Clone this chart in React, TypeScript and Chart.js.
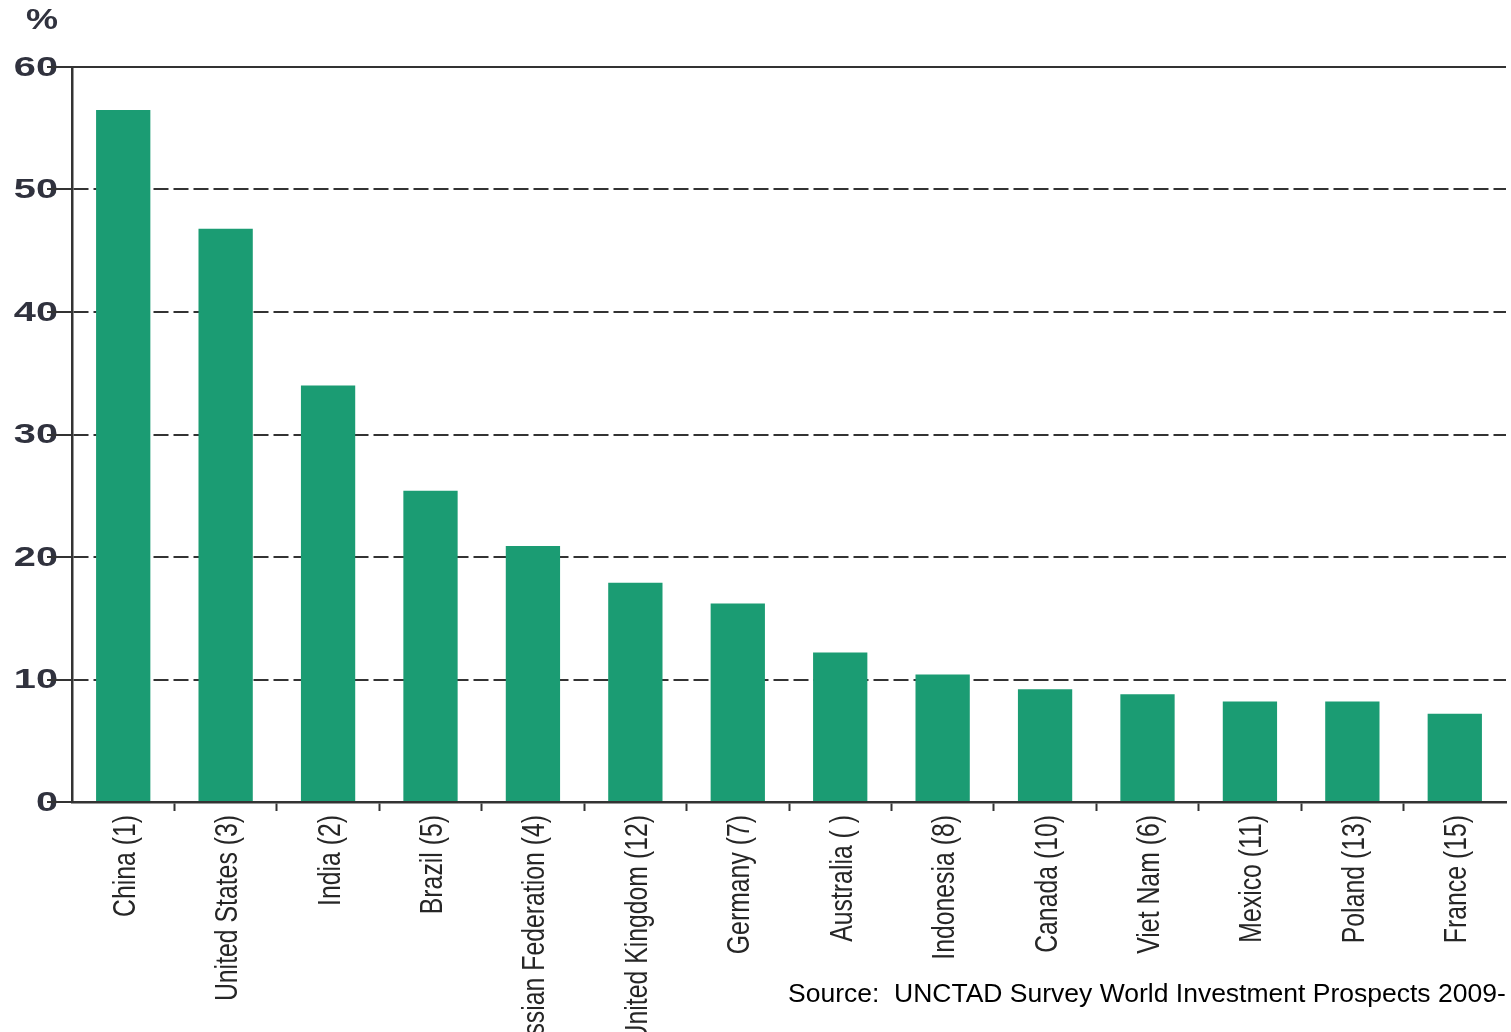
import { useEffect, useRef } from 'react';
import { Chart, registerables } from 'chart.js';

Chart.register(...registerables);

const categories = [
  'China (1)',
  'United States (3)',
  'India (2)',
  'Brazil (5)',
  'Russian Federation (4)',
  'United Kingdom (12)',
  'Germany (7)',
  'Australia ( )',
  'Indonesia (8)',
  'Canada (10)',
  'Viet Nam (6)',
  'Mexico (11)',
  'Poland (13)',
  'France (15)',
];
const values = [56.5, 46.8, 34.0, 25.4, 20.9, 17.9, 16.2, 12.2, 10.4, 9.2, 8.8, 8.2, 8.2, 7.2];
const yMin = 0;
const yMax = 60;
const yStep = 10;
const unitLabel = '%';
const sourceText = 'Source:  UNCTAD Survey World Investment Prospects 2009-';

const BAR_COLOR = '#1b9c73';
const LINE_COLOR = '#333333';
const LABEL_COLOR = '#30323e';

const decorPlugin = {
  id: 'decor',
  beforeDraw(chart: any) {
    const ctx = chart.ctx as CanvasRenderingContext2D;
    const y = chart.scales.y;
    const x = chart.scales.x;
    const area = chart.chartArea;
    ctx.save();
    // y tick labels (wide, bold)
    ctx.fillStyle = LABEL_COLOR;
    ctx.font = 'bold 28px "Liberation Sans", Arial, sans-serif';
    ctx.textAlign = 'right';
    ctx.textBaseline = 'middle';
    y.ticks.forEach((t: any) => {
      const py = y.getPixelForValue(t.value);
      ctx.save();
      ctx.translate(area.left - 14, py + 1);
      ctx.scale(1.42, 1);
      ctx.fillText(String(t.value), 0, 0);
      ctx.restore();
    });
    // unit label
    ctx.save();
    ctx.font = 'bold 30px "Liberation Sans", Arial, sans-serif';
    ctx.textAlign = 'center';
    ctx.translate(area.left - 30, area.top - 46);
    ctx.scale(1.2, 1);
    ctx.fillText(unitLabel, 0, 0);
    ctx.restore();
    // x category labels (rotated, condensed)
    ctx.fillStyle = '#262626';
    ctx.font = '31px "Liberation Sans", Arial, sans-serif';
    ctx.textAlign = 'right';
    ctx.textBaseline = 'middle';
    const labels = chart.data.labels as string[];
    labels.forEach((lab, i) => {
      const px = x.getPixelForTick(i);
      ctx.save();
      ctx.translate(px + 3, area.bottom + 13);
      ctx.rotate(-Math.PI / 2);
      ctx.scale(0.8, 1);
      ctx.fillText(lab, 0, 0);
      ctx.restore();
    });
    ctx.restore();
  },
  afterDraw(chart: any) {
    const ctx = chart.ctx as CanvasRenderingContext2D;
    const area = chart.chartArea;
    const y = chart.scales.y;
    const top = y.getPixelForValue(yMax);
    ctx.save();
    ctx.strokeStyle = LINE_COLOR;
    ctx.lineWidth = 2;
    ctx.beginPath();
    ctx.moveTo(area.left, top);
    ctx.lineTo(area.right, top);
    ctx.stroke();
    ctx.restore();
  },
};

export default function App() {
  const canvasRef = useRef<HTMLCanvasElement | null>(null);

  useEffect(() => {
    if (!canvasRef.current) return;
    const chart = new Chart(canvasRef.current, {
      type: 'bar',
      data: {
        labels: categories,
        datasets: [
          {
            data: values,
            backgroundColor: BAR_COLOR,
            borderWidth: 0,
            barPercentage: 0.53,
            categoryPercentage: 1,
          },
        ],
      },
      options: {
        responsive: false,
        animation: false,
        layout: { padding: { top: 67, right: 5, left: 0, bottom: 0 } },
        plugins: {
          legend: { display: false },
          tooltip: { enabled: false },
          title: { display: false },
        },
        scales: {
          x: {
            offset: true,
            grid: {
              display: true,
              offset: true,
              drawOnChartArea: false,
              drawTicks: true,
              tickLength: 9,
              tickWidth: 2,
              tickColor: (c: any) =>
                c.index === 0 || c.index === undefined ? 'rgba(0,0,0,0)' : LINE_COLOR,
            },
            border: { display: true, color: LINE_COLOR, width: 2.5 },
            ticks: { display: false, autoSkip: false },
            afterFit: (scale: any) => {
              scale.height = 230;
            },
          },
          y: {
            min: yMin,
            max: yMax,
            grid: {
              display: true,
              drawOnChartArea: true,
              drawTicks: true,
              tickLength: 25,
              tickWidth: 2,
              tickColor: LINE_COLOR,
              lineWidth: 2,
              color: (c: any) =>
                c.tick && (c.tick.value === yMin || c.tick.value === yMax)
                  ? 'rgba(0,0,0,0)'
                  : LINE_COLOR,
            },
            border: { display: true, color: LINE_COLOR, width: 2.5, dash: [15, 5] },
            ticks: { stepSize: yStep, display: false },
            afterFit: (scale: any) => {
              scale.width = 72;
            },
          },
        },
      },
      plugins: [decorPlugin],
    });
    return () => chart.destroy();
  }, []);

  return (
    <div
      style={{
        position: 'absolute',
        left: 0,
        top: 0,
        width: 1511,
        height: 1032,
        overflow: 'hidden',
        background: '#ffffff',
      }}
    >
      <canvas ref={canvasRef} width={1511} height={1032} style={{ display: 'block' }} />
      <div
        style={{
          position: 'absolute',
          left: 788,
          top: 980,
          whiteSpace: 'pre',
          font: '26.5px "Liberation Sans", Arial, sans-serif',
          lineHeight: '26px',
          color: '#000',
        }}
      >
        {sourceText}
      </div>
    </div>
  );
}
